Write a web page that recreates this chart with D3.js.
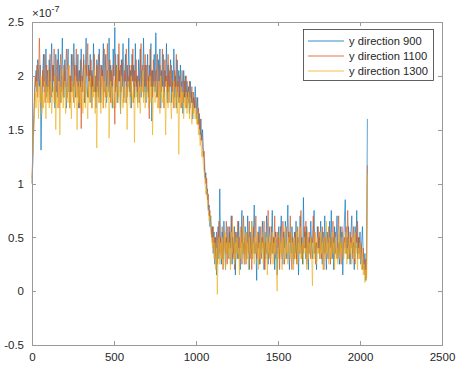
<!DOCTYPE html>
<html><head><meta charset="utf-8">
<script src="https://cdn.jsdelivr.net/npm/d3@7"></script>
<style>body{margin:0;background:#fff}svg{display:block}text{font-family:"Liberation Sans",Arial,Helvetica,sans-serif;fill:#262626}</style>
</head><body><svg id="c" width="458" height="370"></svg>
<script>
// every 5th sample of a 2048-sample record; values in units of 1e-7
const sampleStep = 5;
const seriesNames = ["y direction 900", "y direction 1100", "y direction 1300"];
const xTicks = [0, 500, 1000, 1500, 2000, 2500];
const yTicks = [-0.5, 0, 0.5, 1, 1.5, 2, 2.5];
const yTickLabels = ["-0.5", "0", "0.5", "1", "1.5", "2", "2.5"];
const yExponent = "-7";

const dir900 = [
1.0,1.2,1.55,1.75,1.95,2.05,1.85,2.15,2.0,1.9,
2.1,1.31,1.8,2.0,2.2,1.85,1.95,2.25,1.8,2.05,
1.9,2.15,1.75,2.0,2.3,1.85,2.1,1.95,1.7,2.2,
2.05,1.8,2.25,1.95,2.1,1.75,2.0,2.35,1.9,1.8,
2.15,1.95,1.7,2.05,2.25,1.85,2.0,1.75,2.2,1.95,
1.85,2.3,2.0,1.8,2.1,1.95,2.2,1.7,2.05,1.9,
2.25,1.85,2.0,2.15,1.75,2.05,2.35,1.9,1.8,2.1,
1.95,2.2,1.75,2.05,1.9,2.3,1.85,2.0,1.7,2.15,
2.05,1.8,2.25,1.95,1.75,2.1,2.0,2.3,1.85,1.95,
2.2,1.75,2.05,1.9,2.35,1.8,2.1,1.95,1.7,2.25,
2.0,2.45,1.85,2.1,1.75,2.2,1.95,2.05,1.65,2.15,
1.9,2.3,1.8,2.0,2.2,1.75,2.1,1.95,2.35,1.85,
2.05,1.7,2.2,1.95,2.1,1.8,2.3,1.9,2.0,1.75,
2.15,1.9,2.25,1.8,2.05,1.95,2.35,1.85,2.1,1.75,
2.0,2.2,1.8,2.1,1.95,2.3,1.58,2.05,1.9,2.2,
1.85,2.4,2.0,1.8,2.15,1.95,2.25,1.7,2.05,1.9,
2.2,1.8,2.05,1.95,2.3,1.75,2.1,1.85,2.0,2.15,
1.75,2.05,1.9,2.25,1.8,2.0,1.7,2.15,1.9,2.05,
1.75,2.1,1.85,1.95,1.65,2.05,1.8,2.0,1.7,1.95,
1.8,1.9,1.65,1.95,1.75,1.85,1.6,1.8,1.7,1.9,
1.75,1.6,1.8,1.55,1.65,1.45,1.6,1.4,1.5,1.3,
1.2,1.05,1.1,0.9,0.95,0.75,0.8,0.6,0.7,0.5,
0.6,0.35,0.55,0.25,0.5,0.15,0.45,0.6,0.3,0.95,
0.4,0.25,0.55,0.3,0.65,0.45,0.2,0.5,0.35,0.6,
0.3,0.55,0.4,0.7,0.25,0.5,0.35,0.6,0.15,0.45,
0.55,0.3,0.65,0.4,0.2,0.5,0.75,0.35,0.45,0.25,
0.6,0.4,0.3,0.7,0.45,0.2,0.55,0.35,0.65,0.3,
0.5,0.8,0.35,0.45,0.1,0.55,0.4,0.6,0.25,0.5,
0.35,0.65,0.45,0.2,0.55,0.3,0.7,0.4,0.25,0.5,
0.6,0.3,0.45,0.75,0.35,0.5,0.2,0.55,0.4,0.15,
0.45,0.6,0.3,0.5,0.7,0.35,0.25,0.55,0.4,0.65,
0.3,0.5,0.8,0.4,0.2,0.55,0.35,0.6,0.45,0.25,
0.55,0.35,0.65,0.3,0.5,0.15,0.45,0.7,0.35,0.5,
0.25,0.87,0.4,0.55,0.3,0.6,0.45,0.2,0.5,0.35,
0.65,0.4,0.3,0.55,0.75,0.35,0.45,0.2,0.6,0.4,
0.5,0.3,0.65,0.45,0.25,0.55,0.35,0.7,0.4,0.2,
0.55,0.45,0.3,0.65,0.4,0.75,0.3,0.5,0.2,0.6,
0.35,0.5,0.7,0.3,0.45,0.25,0.6,0.4,0.55,0.15,
0.45,0.65,0.85,0.35,0.5,0.3,0.6,0.4,0.25,0.55,
0.7,0.35,0.45,0.2,0.6,0.4,0.75,0.3,0.5,0.35,
0.55,0.25,0.45,0.6,0.3,0.2,0.35,0.1,0.25,1.6];

const dir1100 = [
1.05,1.3,1.5,1.85,2.0,1.9,2.1,1.8,2.0,2.35,
2.0,1.85,1.7,2.05,1.9,2.2,1.75,2.0,2.1,1.85,
2.05,1.75,2.2,1.9,1.8,2.1,1.95,2.25,1.75,2.0,
1.85,2.15,1.95,1.7,2.05,2.2,1.85,2.0,1.8,2.1,
1.9,2.05,2.25,1.8,1.95,2.1,1.7,2.0,1.85,2.2,
2.0,1.75,2.1,1.9,2.25,1.8,2.05,1.95,1.7,2.15,
1.51,2.0,1.85,2.2,1.9,1.75,2.1,2.0,2.3,1.8,
2.05,1.9,2.15,1.7,2.0,1.85,2.2,1.95,1.8,2.1,
1.85,2.2,1.95,1.75,2.1,1.9,2.05,1.7,2.25,1.95,
1.8,2.0,2.3,1.85,1.95,2.15,1.75,2.05,1.9,2.1,
1.95,1.55,2.2,1.9,2.05,1.8,2.3,1.95,2.1,1.85,
2.15,1.9,1.75,2.05,1.95,2.25,1.8,2.0,1.9,2.1,
1.8,2.1,1.95,2.25,1.75,2.05,1.9,2.15,1.85,2.0,
1.95,1.75,2.05,2.3,1.85,2.1,1.8,1.95,2.2,1.9,
2.1,1.85,2.0,1.6,2.25,1.9,2.05,1.8,2.15,1.95,
1.9,2.05,1.8,2.2,1.95,1.7,2.1,1.95,1.85,2.25,
1.95,1.7,2.15,1.9,2.0,1.85,2.2,1.75,2.05,1.9,
2.1,1.85,1.95,1.7,2.05,1.9,2.2,1.8,1.95,1.75,
2.0,1.85,1.7,2.05,1.9,1.75,1.95,1.8,2.0,1.7,
1.85,1.75,1.95,1.7,1.8,1.9,1.65,1.85,1.75,1.7,
1.8,1.65,1.55,1.7,1.5,1.6,1.4,1.45,1.35,1.25,
1.3,1.1,1.0,1.05,0.85,0.9,0.7,0.75,0.6,0.55,
0.45,0.6,0.4,0.5,0.3,0.55,0.25,0.45,0.65,0.35,
0.5,0.3,0.6,0.2,0.45,0.55,0.35,0.65,0.25,0.5,
0.4,0.6,0.25,0.5,0.7,0.3,0.45,0.2,0.55,0.35,
0.45,0.65,0.3,0.5,0.4,0.6,0.25,0.45,0.7,0.3,
0.5,0.25,0.55,0.4,0.35,0.65,0.3,0.5,0.2,0.45,
0.6,0.35,0.5,0.7,0.3,0.4,0.55,0.25,0.45,0.6,
0.3,0.5,0.4,0.65,0.2,0.45,0.35,0.55,0.75,0.3,
0.45,0.25,0.6,0.35,0.5,0.4,0.7,0.3,0.45,0.55,
0.35,0.5,0.2,0.6,0.4,0.3,0.65,0.45,0.25,0.5,
0.6,0.4,0.3,0.55,0.45,0.7,0.35,0.2,0.5,0.4,
0.3,0.55,0.4,0.25,0.6,0.45,0.35,0.5,0.75,0.3,
0.45,0.35,0.6,0.4,0.65,0.25,0.5,0.35,0.55,0.4,
0.3,0.5,0.45,0.7,0.35,0.55,0.25,0.45,0.4,0.6,
0.35,0.55,0.4,0.3,0.6,0.45,0.2,0.5,0.35,0.55,
0.4,0.3,0.6,0.45,0.25,0.5,0.35,0.65,0.4,0.3,
0.55,0.4,0.3,0.5,0.7,0.35,0.45,0.25,0.6,0.4,
0.3,0.5,0.4,0.6,0.35,0.75,0.45,0.3,0.55,0.4,
0.5,0.3,0.6,0.4,0.25,0.55,0.45,0.65,0.35,0.5,
0.3,0.45,0.35,0.2,0.4,0.25,0.15,0.3,0.12,1.17];

const dir1300 = [
1.0,1.25,1.45,1.65,1.85,1.7,1.95,1.8,1.6,1.9,
1.75,2.0,1.65,1.85,1.7,1.95,1.8,1.6,1.9,1.75,
2.05,1.7,1.85,1.95,1.65,1.8,1.9,1.75,2.0,1.5,
1.85,1.7,1.95,1.8,1.45,1.9,1.75,2.05,1.7,1.85,
1.95,1.65,1.8,1.9,1.75,2.1,1.7,1.85,1.6,1.95,
1.8,1.9,1.7,2.0,1.85,1.5,1.9,1.75,1.95,1.7,
1.85,1.95,1.65,1.8,2.1,1.7,1.9,1.8,1.6,1.95,
1.75,2.0,1.85,1.7,1.9,1.8,2.05,1.65,1.85,1.33,
1.9,1.75,1.95,1.8,1.65,2.0,1.85,1.7,1.95,1.8,
1.7,1.9,1.8,2.05,1.42,1.85,1.95,1.75,1.9,1.7,
1.85,1.95,1.7,1.8,2.1,1.75,1.9,1.85,1.65,2.0,
1.8,1.7,1.95,1.85,1.75,1.9,1.5,1.85,1.95,1.8,
1.7,2.0,1.85,1.75,1.9,1.38,1.95,1.8,1.85,1.7,
1.95,1.8,1.65,1.9,1.85,2.05,1.75,1.9,1.7,1.85,
1.8,1.95,1.7,1.85,2.0,1.75,1.9,1.45,1.85,1.95,
1.75,1.85,1.95,1.7,1.8,1.9,1.65,2.0,1.8,1.75,
1.9,1.75,1.85,1.45,1.95,1.8,1.7,1.9,1.85,1.75,
1.6,1.85,1.75,1.95,1.7,1.8,1.9,1.65,1.85,1.27,
1.8,1.7,1.9,1.75,1.85,1.6,1.8,1.7,1.85,1.65,
1.75,1.85,1.6,1.8,1.7,1.55,1.75,1.65,1.7,1.6,
1.7,1.55,1.65,1.45,1.5,1.35,1.4,1.25,1.3,1.15,
1.1,1.0,0.9,0.95,0.8,0.75,0.65,0.7,0.55,0.5,
0.4,0.5,0.3,0.45,0.2,0.4,-0.03,0.35,0.5,0.25,
0.45,0.3,0.5,0.25,0.4,0.55,0.2,0.45,0.35,0.5,
0.3,0.45,0.2,0.55,0.35,0.4,0.6,0.25,0.45,0.3,
0.5,0.35,0.4,0.15,0.55,0.3,0.45,0.35,0.6,0.25,
0.4,0.55,0.3,0.45,0.2,0.5,0.35,0.4,0.65,0.3,
0.45,0.25,0.5,0.35,0.4,0.55,0.2,0.45,0.3,0.5,
0.35,0.45,0.25,0.55,0.4,0.3,0.5,0.15,0.45,0.35,
0.5,0.3,0.4,0.55,0.25,0.45,0.35,0.5,0.2,0.0,
0.4,0.3,0.55,0.35,0.45,0.2,0.5,0.4,0.3,0.6,
0.35,0.45,0.25,0.5,0.4,0.3,0.55,0.35,0.45,0.2,
0.5,0.3,0.4,0.55,0.25,0.45,0.35,0.6,0.3,0.4,
0.45,0.25,0.5,0.35,0.4,0.2,0.55,0.3,0.45,0.35,
0.5,0.35,0.05,0.45,0.3,0.55,0.4,0.25,0.5,0.35,
0.4,0.3,0.55,0.35,0.45,0.2,0.5,0.4,0.3,0.65,
0.35,0.45,0.25,0.5,0.4,0.3,0.55,0.35,0.45,0.2,
0.5,0.35,0.4,0.25,0.55,0.3,0.45,0.35,0.5,0.4,
0.3,0.45,0.35,0.55,0.25,0.4,0.3,0.5,0.35,0.45,
0.25,0.5,0.4,0.3,0.55,0.35,0.45,0.2,0.4,0.3,
0.45,0.3,0.2,0.35,0.15,0.25,0.08,0.2,0.1,1.08];

const allSeries = [dir900, dir1100, dir1300];
const colors = ["#0072BD", "#D95319", "#EDB120"];

const svg = d3.select("#c");
const L = 32, R = 442, T = 22, B = 345;
const x = d3.scaleLinear().domain([0, 2500]).range([L, R]);
const y = d3.scaleLinear().domain([-0.5, 2.5]).range([B, T]);

const line = d3.line().x((d, i) => x(i * sampleStep)).y(d => y(d));
allSeries.forEach((s, k) => {
  svg.append("path").datum(s).attr("d", line)
    .attr("fill", "none").attr("stroke", colors[k]).attr("stroke-width", 0.65);
});

const axCol = "#9a9a9a";
svg.append("rect").attr("x", L).attr("y", T).attr("width", R - L).attr("height", B - T)
  .attr("fill", "none").attr("stroke", axCol).attr("stroke-width", 1).attr("shape-rendering", "crispEdges");

const xb = d3.axisBottom(x).tickValues(xTicks).tickSize(-4).tickPadding(8).tickFormat(d3.format("d"));
const xt = d3.axisTop(x).tickValues(xTicks).tickSize(-4).tickFormat("");
const yl = d3.axisLeft(y).tickValues(yTicks).tickSize(-4).tickPadding(8).tickFormat((d, i) => yTickLabels[i]);
const yr = d3.axisRight(y).tickValues(yTicks).tickSize(-4).tickFormat("");
function styleAxis(g) {
  g.select(".domain").remove();
  g.selectAll(".tick line").attr("stroke", axCol).attr("shape-rendering", "crispEdges");
  g.selectAll(".tick text").attr("font-size", 11.5).attr("fill", "#262626")
    .attr("font-family", "'Liberation Sans',Arial,sans-serif");
}
svg.append("g").attr("transform", `translate(0,${B})`).call(xb).call(styleAxis);
svg.append("g").attr("transform", `translate(0,${T})`).call(xt).call(styleAxis);
svg.append("g").attr("transform", `translate(${L},0)`).call(yl).call(styleAxis);
svg.append("g").attr("transform", `translate(${R},0)`).call(yr).call(styleAxis);

const ex = svg.append("text").attr("x", L).attr("y", 17).attr("font-size", 11.5);
ex.append("tspan").text("×10");
ex.append("tspan").attr("dy", -5).attr("font-size", 9).text(yExponent);

const lg = svg.append("g");
lg.append("rect").attr("x", 303.5).attr("y", 29.5).attr("width", 130).attr("height", 51)
  .attr("fill", "#fff").attr("stroke", "#3a3a3a").attr("stroke-width", 0.8);
seriesNames.forEach((n, k) => {
  const yy = 41 + k * 15;
  lg.append("line").attr("x1", 308).attr("x2", 344).attr("y1", yy).attr("y2", yy)
    .attr("stroke", colors[k]).attr("stroke-width", 0.8);
  lg.append("text").attr("x", 349).attr("y", yy + 4).attr("font-size", 11.2).text(n);
});
</script></body></html>
